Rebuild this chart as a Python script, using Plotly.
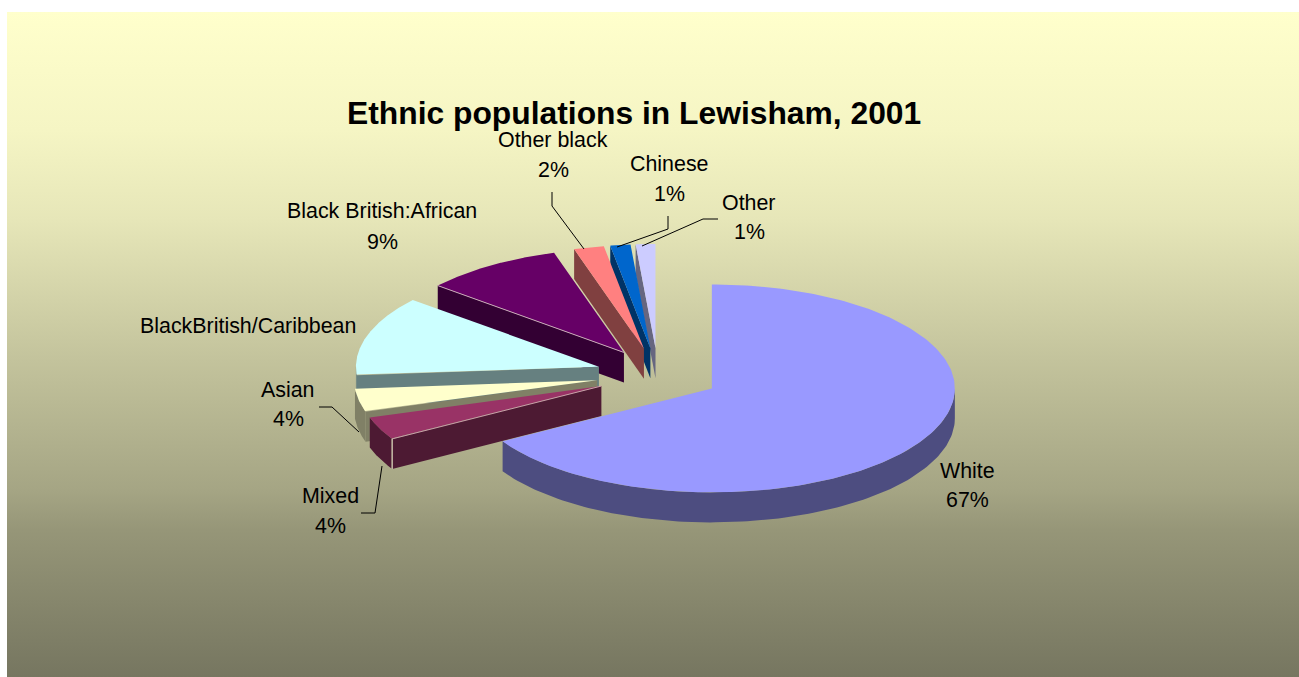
import numpy as np
import plotly.graph_objects as go

# Ethnic groups in clockwise order from twelve o'clock
categories = ["White", "Mixed", "Asian", "BlackBritish/Caribbean",
              "Black British:African", "Other black", "Chinese", "Other"]
shares = [66.51, 3.6, 3.6, 12.4, 9.25, 2.0, 1.34, 1.3]
show_share = [True, True, True, False, True, True, True, True]

top_colors = ["#9999FF", "#993366", "#FFFFCC", "#CCFFFF", "#660066", "#FF8080", "#0066CC", "#CCCCFF"]
side_colors = ["#4D4D80", "#4D1A33", "#808066", "#668080", "#330033", "#804040", "#003366", "#666680"]

W, H = 1299, 677
CX, CY = 658, 375         # pie centre before slices are pulled out
RX, RY = 243, 104         # tilted pie radii
EX, EY = 62, 27           # explosion distance along each axis
DEPTH = 30                # extrusion of the pie

# Label text centres: x, y of name line, y of share line
label_pos = [(967, 471, 500), (330, 496, 526), (288, 390, 419), (248, 326, None),
             (382, 211, 242), (553, 140, 170), (669, 164, 194), (749, 203, 232)]

# Leader lines from labels to slices
leaders = [
    [(319, 407), (332, 407), (359, 432)],
    [(361, 513), (375, 513), (382, 466)],
    [(552, 192), (552, 206), (584, 249)],
    [(668, 216), (668, 229), (617, 247)],
    [(718, 219), (703, 219), (642, 246)],
]

# Panel shading, bottom to top, as (fraction of height, colour)
panel_stops = [[0, "#767660"], [0.221, "#969678"], [0.281, "#A5A584"], [0.477, "#C3C39C"],
               [0.687, "#E6E6B8"], [0.823, "#F5F5C4"], [1, "#FFFFCC"]]

fig = go.Figure()

fig.add_trace(go.Scatter(
    x=[7, W, W, 7, 7], y=[12, 12, H, H, 12], mode="lines", line=dict(width=0),
    fill="toself",
    fillgradient=dict(type="vertical", colorscale=panel_stops),
    hoverinfo="skip", showlegend=False))


def poly(xs, ys, color):
    fig.add_trace(go.Scatter(
        x=xs, y=ys, mode="lines", fill="toself", fillcolor=color,
        line=dict(width=0, color=color), hoverinfo="skip", showlegend=False))


def stroke(xs, ys, color, width):
    fig.add_trace(go.Scatter(
        x=xs, y=ys, mode="lines", line=dict(color=color, width=width),
        hoverinfo="skip", showlegend=False))


edges = np.cumsum([0.0] + shares) * 3.6
slices = []
for i in range(len(shares)):
    a1, a2 = edges[i], edges[i + 1]
    mid = np.radians((a1 + a2) / 2)
    ax = CX + EX * np.sin(mid)
    ay = CY - EY * np.cos(mid)
    slices.append((i, a1, a2, ax, ay))

# Paint back to front: small rear slices first, the large White slice last
for i, a1, a2, ax, ay in [slices[k] for k in (7, 6, 5, 4, 3, 2, 1, 0)]:
    px = lambda d: ax + RX * np.sin(np.radians(d))
    py = lambda d: ay - RY * np.cos(np.radians(d))
    # radial wall on the leading edge faces the viewer in the left half
    if 180 < a1 < 360:
        poly([ax, px(a1), px(a1), ax, ax],
             [ay, py(a1), py(a1) + DEPTH, ay + DEPTH, ay], side_colors[i])
    # curved outer wall, front half only
    lo, hi = max(a1, 90), min(a2, 270)
    if hi > lo:
        t = np.linspace(lo, hi, 120)
        poly(np.r_[px(t), px(t[::-1])],
             np.r_[py(t), py(t[::-1]) + DEPTH], side_colors[i])
    t = np.linspace(a1, a2, 240)
    poly(np.r_[ax, px(t), ax], np.r_[ay, py(t), ay], top_colors[i])
    # pale catch-light along the lit edges of two slices
    if categories[i] == "Black British:African":
        stroke([ax, px(a1)], [ay, py(a1)], "#C9A9B9", 1)
    if categories[i] == "Mixed":
        stroke([ax, px(a1)], [ay, py(a1)], "#C9A0A8", 1)
        stroke([px(a1), px(a1)], [py(a1), py(a1) + DEPTH], "#C8BDA8", 1.5)

for path in leaders:
    stroke([p[0] for p in path], [p[1] for p in path], "#000000", 1)

annotations = [dict(x=634, y=113, text="<b>Ethnic populations in Lewisham, 2001</b>",
                    font=dict(size=31.8))]
for name, share, show, (lx, ly, sy) in zip(categories, shares, show_share, label_pos):
    annotations.append(dict(x=lx, y=ly, text=name, font=dict(size=21.4)))
    if show:
        annotations.append(dict(x=lx, y=sy, text=f"{round(share)}%", font=dict(size=21.4)))
for a in annotations:
    a.update(xref="x", yref="y", showarrow=False, xanchor="center", yanchor="middle")
    a["font"].update(family="Liberation Sans", color="#000000")

fig.update_layout(
    width=W, height=H, margin=dict(l=0, r=0, t=0, b=0),
    paper_bgcolor="#FFFFFF", plot_bgcolor="rgba(0,0,0,0)",
    xaxis=dict(range=[0, W], visible=False, fixedrange=True),
    yaxis=dict(range=[H, 0], visible=False, fixedrange=True),
    annotations=annotations, showlegend=False)

fig.write_html("out.html", config=dict(displayModeBar=False))
